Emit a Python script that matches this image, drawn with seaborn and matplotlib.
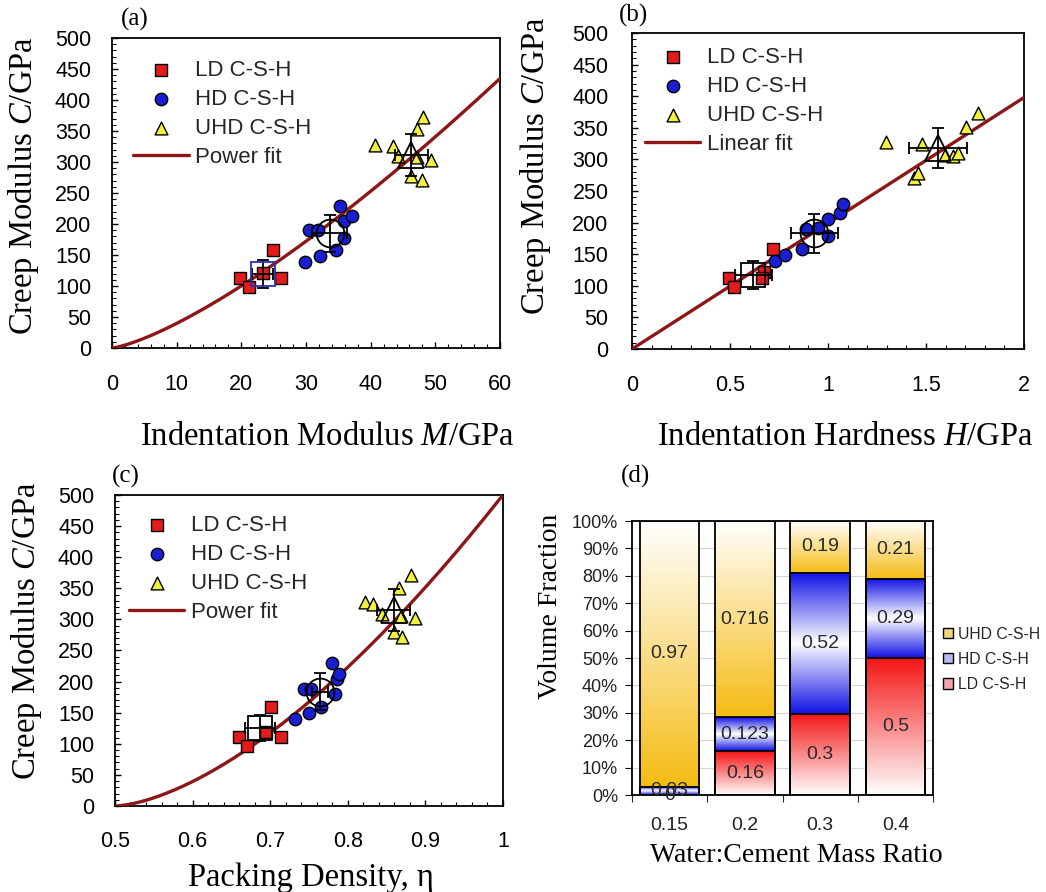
import numpy as np
import matplotlib
matplotlib.use("Agg")
import matplotlib.pyplot as plt
import seaborn as sns
from matplotlib.ticker import MultipleLocator, FuncFormatter, FixedLocator
from matplotlib.patches import Patch
from matplotlib.colors import to_rgb

# ---------------- data ----------------
# (a) creep modulus vs indentation modulus M (GPa)
ld_M = [19.8, 21.2, 23.4, 24.9, 26.1]
ld_C_M = [113, 99, 121, 158, 113]
hd_M = [29.8, 30.5, 31.9, 32.1, 34.7, 35.2, 35.8, 35.9, 37.1]
hd_C_M = [139, 190, 190, 148, 158, 229, 205, 178, 213]
uhd_M = [40.7, 43.5, 44.2, 46.3, 47.1, 47.2, 47.9, 48.1, 49.3]
uhd_C_M = [328, 325, 310, 278, 353, 308, 271, 373, 304]
mean_M = [23.3, 33.7, 46.3]
mean_M_err = [1.6, 2.7, 2.5]
mean_C_M = [119, 185, 311]
mean_C_M_err = [23, 30, 34]
power_M_coef, power_M_exp = 1.83, 1.336

# (b) creep modulus vs indentation hardness H (GPa)
ld_H = [0.496, 0.520, 0.721, 0.673, 0.662]
ld_C_H = [113, 98, 158, 122, 112]
hd_H = [0.731, 0.779, 0.866, 0.888, 0.951, 1.002, 1.002, 1.061, 1.078]
hd_C_H = [140, 149, 158, 190, 191, 206, 179, 215, 230]
uhd_H = [1.298, 1.437, 1.460, 1.482, 1.597, 1.640, 1.665, 1.703, 1.767]
uhd_C_H = [327, 271, 278, 325, 307, 305, 310, 352, 373]
mean_H = [0.619, 0.930, 1.563]
mean_H_err = [0.096, 0.119, 0.148]
mean_C_H = [117, 183, 318]
mean_C_H_err = [22, 31, 32]
linear_H_slope = 199

# (c) creep modulus vs packing density eta
ld_eta = [0.660, 0.670, 0.695, 0.701, 0.714]
ld_C_eta = [111, 97, 119, 159, 111]
hd_eta = [0.732, 0.744, 0.753, 0.750, 0.766, 0.780, 0.783, 0.786, 0.789]
hd_C_eta = [140, 188, 188, 149, 159, 230, 180, 204, 212]
uhd_eta = [0.822, 0.832, 0.844, 0.859, 0.866, 0.869, 0.870, 0.881, 0.887]
uhd_C_eta = [328, 325, 309, 280, 351, 305, 271, 372, 303]
mean_eta = [0.687, 0.764, 0.859]
mean_eta_err = [0.019, 0.010, 0.0215]
mean_C_eta = [125, 184, 315]
mean_C_eta_err = [21, 30, 34]
eta_jam, C_solid, power_eta_exp = 0.5, 500, 1.58

# (d) volume fractions vs water:cement ratio
wc_ratio = ["0.15", "0.2", "0.3", "0.4"]
frac_ld = [0.0, 0.16, 0.30, 0.50]
frac_hd = [0.03, 0.123, 0.52, 0.29]
frac_uhd = [0.97, 0.716, 0.19, 0.21]

# ---------------- style ----------------
sns.set_theme(style="white")
plt.rcParams["font.family"] = ["Liberation Sans", "DejaVu Sans"]
plt.rcParams["mathtext.fontset"] = "custom"
plt.rcParams["mathtext.rm"] = "Liberation Serif"
plt.rcParams["mathtext.it"] = "Liberation Serif:italic"
plt.rcParams["axes.edgecolor"] = "black"
plt.rcParams["axes.linewidth"] = 1.3

RED = "#E31B1B"
BLUE = "#1A1ED2"
YELLOW = "#F2F23C"
FIT = "#8E1616"
SERIF = "Liberation Serif"

fig = plt.figure(figsize=(10.46, 8.92), dpi=100)


def scatter_panel(ax, xs, ys, means, mean_err, cmeans, cmean_err, xfit, yfit,
                  fit_label, mean_square_color):
    ld_x, hd_x, uhd_x = xs
    ld_y, hd_y, uhd_y = ys
    sns.scatterplot(x=ld_x, y=ld_y, marker="s", color=RED, edgecolor="black",
                    linewidth=1, s=68, label="LD C-S-H", ax=ax, zorder=4)
    sns.scatterplot(x=hd_x, y=hd_y, marker="o", color=BLUE, edgecolor="black",
                    linewidth=1, s=80, label="HD C-S-H", ax=ax, zorder=4)
    sns.scatterplot(x=uhd_x, y=uhd_y, marker="^", color=YELLOW, edgecolor="black",
                    linewidth=1, s=85, label="UHD C-S-H", ax=ax, zorder=4)
    sns.lineplot(x=xfit, y=yfit, color=FIT, linewidth=2.4, label=fit_label,
                 ax=ax, zorder=3)
    # group means with error bars
    for k, (mk, ms, mc) in enumerate([("s", 17, mean_square_color),
                                      ("o", 20, "black"), ("^", 19, "black")]):
        ax.errorbar(means[k], cmeans[k], xerr=mean_err[k], yerr=cmean_err[k],
                    fmt=mk, ms=ms, mfc="none", mec=mc, mew=1.3, ecolor="black",
                    elinewidth=1.3, capsize=4, capthick=1.3, zorder=5)
    ax.set_ylim(0, 500)
    ax.yaxis.set_major_locator(MultipleLocator(50))
    ax.yaxis.set_minor_locator(MultipleLocator(10))
    ax.tick_params(which="both", direction="in", left=True, bottom=True,
                   top=False, right=False, colors="black", labelsize=15.5)
    ax.tick_params(which="major", length=4, width=1)
    ax.tick_params(which="minor", length=3, width=0.8)
    ax.tick_params(axis="y", pad=15)
    ax.tick_params(axis="x", pad=19)
    for sp in ax.spines.values():
        sp.set_visible(True)
        sp.set_color("black")
        sp.set_linewidth(1.3)


def place_legend(ax, anchor):
    ax.legend(loc="upper left", bbox_to_anchor=anchor, frameon=False,
              borderaxespad=0, borderpad=0, handlelength=2.5,
              handletextpad=0.3, labelspacing=0.36, fontsize=16)


def serif_labels(ax, xlabel, xpos, ylabel, ypos, size=23.5):
    ax.set_xlabel(xlabel, fontfamily=SERIF, fontsize=size, color="black")
    ax.xaxis.set_label_coords(*xpos)
    ax.xaxis.label.set_verticalalignment("center")
    ax.set_ylabel(ylabel, fontfamily=SERIF, fontsize=size, color="black")
    ax.yaxis.set_label_coords(*ypos)
    ax.yaxis.label.set_verticalalignment("center")
    ax.yaxis.label.set_horizontalalignment("center")


num_fmt = FuncFormatter(lambda v, p: f"{v:g}")

# ---------------- (a) ----------------
ax_a = fig.add_axes([0.1071, 0.6099, 0.3709, 0.3475])
M_grid = np.linspace(0, 60, 200)
scatter_panel(ax_a, (ld_M, hd_M, uhd_M), (ld_C_M, hd_C_M, uhd_C_M),
              mean_M, mean_M_err, mean_C_M, mean_C_M_err,
              M_grid, power_M_coef * M_grid ** power_M_exp, "Power fit", "#2B2FB0")
ax_a.set_xlim(0, 60)
ax_a.xaxis.set_major_locator(MultipleLocator(10))
ax_a.xaxis.set_minor_locator(MultipleLocator(2))
ax_a.xaxis.set_major_formatter(num_fmt)
place_legend(ax_a, (0.054, 0.93))
serif_labels(ax_a, "Indentation Modulus $M$/GPa", (0.554, -0.287),
             "Creep Modulus $C$/GPa", (-0.229, 0.523))

# ---------------- (b) ----------------
ax_b = fig.add_axes([0.6042, 0.6087, 0.3748, 0.3543])
H_grid = np.linspace(0, 2, 50)
scatter_panel(ax_b, (ld_H, hd_H, uhd_H), (ld_C_H, hd_C_H, uhd_C_H),
              mean_H, mean_H_err, mean_C_H, mean_C_H_err,
              H_grid, linear_H_slope * H_grid, "Linear fit", "black")
ax_b.set_xlim(0, 2)
ax_b.xaxis.set_major_locator(MultipleLocator(0.5))
ax_b.xaxis.set_minor_locator(MultipleLocator(0.1))
ax_b.xaxis.set_major_formatter(num_fmt)
ax_b.tick_params(axis="y", pad=17)
place_legend(ax_b, (0.033, 0.955))
serif_labels(ax_b, "Indentation Hardness $H$/GPa", (0.543, -0.278),
             "Creep Modulus $C$/GPa", (-0.245, 0.579))

# ---------------- (c) ----------------
ax_c = fig.add_axes([0.1099, 0.0964, 0.3709, 0.3487])
eta_grid = np.linspace(0.5, 1.0, 200)
scatter_panel(ax_c, (ld_eta, hd_eta, uhd_eta), (ld_C_eta, hd_C_eta, uhd_C_eta),
              mean_eta, mean_eta_err, mean_C_eta, mean_C_eta_err,
              eta_grid,
              C_solid * ((eta_grid - eta_jam) / (1 - eta_jam)) ** power_eta_exp,
              "Power fit", "black")
ax_c.set_xlim(0.5, 1.0)
ax_c.xaxis.set_major_locator(MultipleLocator(0.1))
ax_c.xaxis.set_minor_locator(MultipleLocator(0.02))
ax_c.xaxis.set_major_formatter(num_fmt)
ax_c.tick_params(axis="x", pad=18)
place_legend(ax_c, (0.036, 0.935))
serif_labels(ax_c, "Packing Density, η", (0.505, -0.232),
             "Creep Modulus $C$/GPa", (-0.227, 0.563))

# ---------------- (d) ----------------
ax_d = fig.add_axes([0.6042, 0.1087, 0.2878, 0.3072])
ld_a = np.array(frac_ld)
hd_a = np.array(frac_hd)
uhd_a = np.array(frac_uhd)
total = ld_a + hd_a + uhd_a
top_ld = ld_a / total * 100
top_hd = (ld_a + hd_a) / total * 100
top_uhd = (ld_a + hd_a + uhd_a) / total * 100

GOLD = to_rgb("#F5BC14")
DEEP_BLUE = to_rgb("#1010E6")
BRIGHT_RED = to_rgb("#F51414")
WHITE = (1.0, 1.0, 1.0)

# (segment top, segment bottom, colour stops listed bottom -> top)
layers = [
    (top_uhd, top_hd, [GOLD, WHITE]),
    (top_hd, top_ld, [DEEP_BLUE, WHITE, DEEP_BLUE]),
    (top_ld, np.zeros(len(wc_ratio)), [WHITE, BRIGHT_RED]),
]


def gradient(stops, n=256):
    # vertical colour ramp, first stop at the bottom
    stops = np.array(stops)
    pos = np.linspace(0, 1, len(stops))
    t = np.linspace(0, 1, n)
    rgb = np.stack([np.interp(t, pos, stops[:, c]) for c in range(3)], axis=1)
    return rgb[:, None, :]


for tops, bottoms, stops in layers:
    n_before = len(ax_d.patches)
    sns.barplot(x=wc_ratio, y=tops, color="white", width=0.79, ax=ax_d)
    new_patches = ax_d.patches[n_before:]
    img = gradient(stops)
    for i, p in enumerate(new_patches):
        p.set_facecolor("none")
        p.set_edgecolor("black")
        p.set_linewidth(1.3)
        p.set_zorder(4)
        lo, hi = bottoms[i], p.get_height()
        if hi - lo <= 0:
            continue
        ax_d.imshow(img, extent=(p.get_x(), p.get_x() + p.get_width(), lo, hi),
                    origin="lower", aspect="auto", interpolation="bilinear",
                    zorder=2)

# value labels in each segment
for i in range(len(wc_ratio)):
    segs = [(frac_ld[i], 0, top_ld[i]), (frac_hd[i], top_ld[i], top_hd[i]),
            (frac_uhd[i], top_hd[i], top_uhd[i])]
    for val, lo, hi in segs:
        ax_d.text(i, (lo + hi) / 2, f"{val:g}", ha="center", va="center",
                  fontsize=14, color="#2A2A2A", zorder=5)

ax_d.set_xlim(-0.5, 3.5)
ax_d.set_ylim(0, 100)
ax_d.yaxis.set_major_locator(MultipleLocator(10))
ax_d.yaxis.set_major_formatter(FuncFormatter(lambda v, p: f"{v:.0f}%"))
ax_d.xaxis.set_minor_locator(FixedLocator(np.arange(-0.5, 4, 1.0)))
ax_d.set_axisbelow(True)
ax_d.grid(axis="y", color="#D6D6D6", linewidth=0.8, zorder=0)
ax_d.grid(axis="x", visible=False)
for sp in ax_d.spines.values():
    sp.set_visible(True)
    sp.set_color("black")
    sp.set_linewidth(1.3)
ax_d.tick_params(axis="y", which="major", direction="out", left=True, length=5,
                 width=0.8, labelsize=13, pad=5, colors="black",
                 labelcolor="#222222")
ax_d.tick_params(axis="x", which="major", length=0, labelsize=14, pad=16,
                 colors="black", labelcolor="#222222")
ax_d.tick_params(axis="x", which="minor", direction="out", bottom=True,
                 length=5, width=0.8)
serif_labels(ax_d, "Water:Cement Mass Ratio", (0.545, -0.219),
             "Volume Fraction", (-0.272, 0.69), size=20)

legend_handles = [
    Patch(facecolor="#F0D27E", edgecolor="black", label="UHD C-S-H"),
    Patch(facecolor="#B9B9F0", edgecolor="black", label="HD C-S-H"),
    Patch(facecolor="#F2A3AB", edgecolor="black", label="LD C-S-H"),
]
ax_d.legend(handles=legend_handles, loc="upper left",
            bbox_to_anchor=(1.033, 0.615), frameon=False, borderaxespad=0,
            borderpad=0, handlelength=0.65, handleheight=0.65,
            handletextpad=0.3, labelspacing=0.65, fontsize=11.3)

# panel letters
for letter, (px, py) in zip("abcd", [(135, 19), (634, 15), (126, 476), (635, 476)]):
    fig.text(px / 1046, 1 - py / 892, f"({letter})", fontfamily=SERIF,
             fontsize=18, ha="center", va="center", color="black")

fig.savefig("out.png", dpi=100, facecolor="white")
